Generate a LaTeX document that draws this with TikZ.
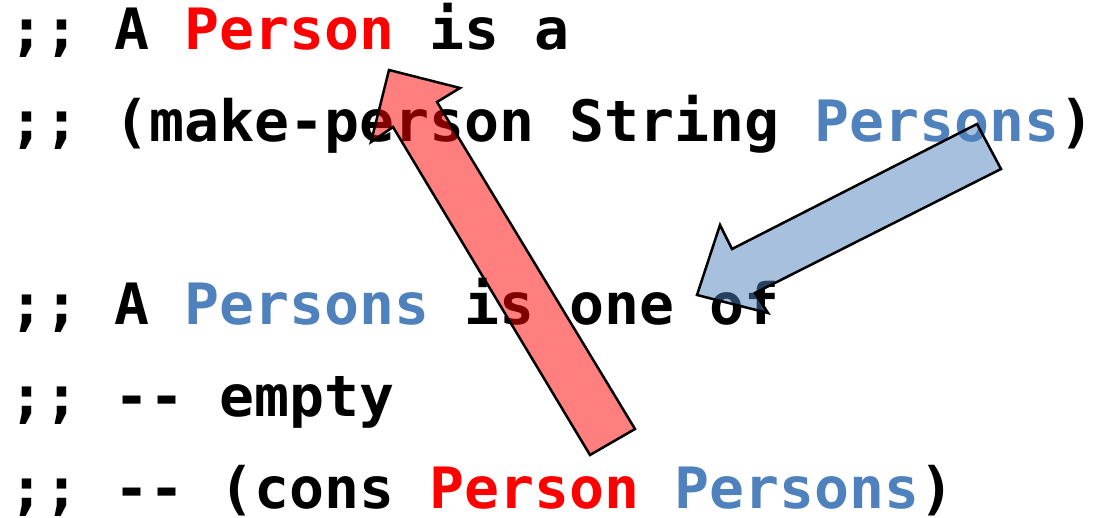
\documentclass[tikz,border=0pt]{standalone}
\usepackage{fontspec}
\setmonofont{DejaVu Sans Mono}
\usepackage{xcolor}
\definecolor{pred}{HTML}{FF0000}
\definecolor{pblue}{HTML}{4F81BD}
\newcommand\mycodefont{\fontsize{57pt}{91.6pt}\selectfont\ttfamily\bfseries\frenchspacing}
\begin{document}
\begin{tikzpicture}[x=1pt,y=-1pt,
  codeline/.style={anchor=base west, inner sep=0pt, outer sep=0pt, font=\mycodefont},
  blockarrow/.style={draw=black, line width=2.5pt, fill opacity=0.5}]
\useasboundingbox (0,0) rectangle (1099,518);
\node[codeline, xscale=1.0197] (l1) at (10,50) {;; A \textcolor{pred}{Person} is a};
\node[codeline, xscale=1.0197] (l2) at (10,141.6) {;; (make-person String \textcolor{pblue}{Persons})};
\node[codeline, xscale=1.0197] (l4) at (10,324.8) {;; A \textcolor{pblue}{Persons} is one of};
\node[codeline, xscale=1.0197] (l5) at (10,416.4) {;; -{}- empty};
\node[codeline, xscale=1.0197] (l6) at (10,508) {;; -{}- (cons \textcolor{pred}{Person} \textcolor{pblue}{Persons})};
\draw[blockarrow, fill=pred] (389,70) -- (460,88) -- (437,102) -- (635,429) -- (590,455) -- (393,127) -- (371,142) -- cycle;
\draw[blockarrow, fill=pblue] (977,124) -- (732,249) -- (720,225) -- (697,295) -- (768,313) -- (755,293) -- (1001,169) -- cycle;
\end{tikzpicture}
\end{document}
